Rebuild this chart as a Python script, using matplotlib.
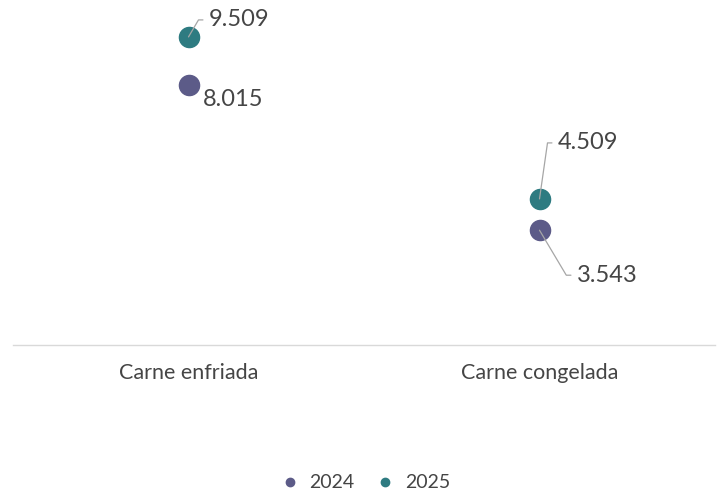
import math
import matplotlib.pyplot as plt
from matplotlib.lines import Line2D

categorias = ["Carne enfriada", "Carne congelada"]
series = ["2024", "2025"]
valores_2024 = [8.015, 3.543]
valores_2025 = [9.509, 4.509]
colores = ["#5C5B88", "#2E7B81"]

plt.rcParams['font.family'] = ['Lato', 'DejaVu Sans']
gris = "#454545"

fig = plt.figure(figsize=(7.2, 4.95), dpi=100)
# area de trazado: x 13-715 px, y 0 en 345 px, 10 en 21 px
ax = fig.add_axes([13/720, 150/495, 702/720, 324/495])
ax.set_xlim(-0.5, 1.5)
ax.set_ylim(0, 10)

x = list(range(len(categorias)))
ax.plot(x, valores_2024, 'o', ms=14.5, color=colores[0], zorder=3)
ax.plot(x, valores_2025, 'o', ms=14.5, color=colores[1], zorder=3)

# etiquetas: desplazamiento en px (dx, dy) y codo de la linea guia
etiquetas = [
    (0, valores_2025[0], (20, 17), (10, 17)),
    (0, valores_2024[0], (14, -14), None),
    (1, valores_2025[1], (18, 56), (8, 56)),
    (1, valores_2024[1], (37, -45), (25, -42)),
]
for xi, v, (dx, dy), codo in etiquetas:
    texto = f"{v:.3f}"
    if codo is None:
        ax.annotate(texto, (xi, v), xytext=(dx*0.72, dy*0.72), textcoords='offset points',
                    ha='left', va='center', fontsize=17, color=gris)
    else:
        ang = math.degrees(math.atan2(codo[1], codo[0]))
        ax.annotate(texto, (xi, v), xytext=(dx*0.72, dy*0.72), textcoords='offset points',
                    ha='left', va='center', fontsize=17, color=gris,
                    arrowprops=dict(arrowstyle='-', color='#a6a6a6', lw=0.9,
                                    relpos=(0, 0.5), shrinkA=2, shrinkB=0,
                                    connectionstyle=f"angle,angleA=0,angleB={ang},rad=0"))

for s in ['top', 'right', 'left']:
    ax.spines[s].set_visible(False)
ax.spines['bottom'].set_color('#d9d9d9')
ax.spines['bottom'].set_linewidth(1)
ax.set_yticks([])
ax.set_xticks(x)
ax.set_xticklabels(categorias, fontsize=15.5, color=gris)
ax.tick_params(axis='x', length=0, pad=13)

manejadores = [Line2D([], [], marker='o', ls='', ms=6, color=c) for c in colores]
fig.legend(manejadores, series, loc='center', bbox_to_anchor=(0.507, 1 - 483/495), ncol=2,
           frameon=False, fontsize=14, labelcolor=gris, handlelength=1.0,
           handletextpad=0.5, columnspacing=1.1)

fig.savefig("out.png", dpi=100)
